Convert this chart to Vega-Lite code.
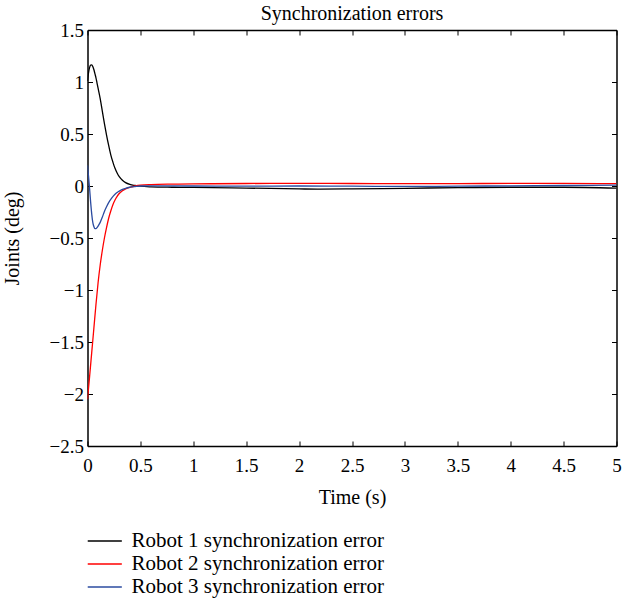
{
  "$schema": "https://vega.github.io/schema/vega-lite/v6.json",
  "width": 529,
  "height": 416,
  "autosize": {"type": "none"},
  "padding": {"left": 87.5, "top": 30, "right": 6.5, "bottom": 167},
  "config": {
    "font": "Liberation Serif",
    "view": {"stroke": null},
    "axis": {"grid": false, "domainColor": "black", "domainWidth": 1.5, "tickColor": "black", "tickWidth": 1, "labelColor": "black", "titleColor": "black", "labelFont": "Liberation Serif", "titleFont": "Liberation Serif", "titleFontWeight": "normal"},
    "legend": {"labelFont": "Liberation Serif"}
  },
  "title": {"text": "Synchronization errors", "font": "Liberation Serif", "fontSize": 20, "fontWeight": "normal", "color": "black", "baseline": "alphabetic", "offset": 3, "dy": 22},
  "data": {"values": [
    {"t":0,"v":1.01,"s":"Robot 1 synchronization error"},
    {"t":0.01,"v":1.09,"s":"Robot 1 synchronization error"},
    {"t":0.02,"v":1.14,"s":"Robot 1 synchronization error"},
    {"t":0.03,"v":1.163,"s":"Robot 1 synchronization error"},
    {"t":0.04,"v":1.165,"s":"Robot 1 synchronization error"},
    {"t":0.05,"v":1.15,"s":"Robot 1 synchronization error"},
    {"t":0.06,"v":1.12,"s":"Robot 1 synchronization error"},
    {"t":0.07,"v":1.08,"s":"Robot 1 synchronization error"},
    {"t":0.08,"v":1.04,"s":"Robot 1 synchronization error"},
    {"t":0.09,"v":0.99,"s":"Robot 1 synchronization error"},
    {"t":0.10,"v":0.94,"s":"Robot 1 synchronization error"},
    {"t":0.12,"v":0.84,"s":"Robot 1 synchronization error"},
    {"t":0.14,"v":0.72,"s":"Robot 1 synchronization error"},
    {"t":0.16,"v":0.60,"s":"Robot 1 synchronization error"},
    {"t":0.18,"v":0.49,"s":"Robot 1 synchronization error"},
    {"t":0.20,"v":0.39,"s":"Robot 1 synchronization error"},
    {"t":0.22,"v":0.30,"s":"Robot 1 synchronization error"},
    {"t":0.24,"v":0.23,"s":"Robot 1 synchronization error"},
    {"t":0.26,"v":0.17,"s":"Robot 1 synchronization error"},
    {"t":0.28,"v":0.125,"s":"Robot 1 synchronization error"},
    {"t":0.30,"v":0.09,"s":"Robot 1 synchronization error"},
    {"t":0.33,"v":0.055,"s":"Robot 1 synchronization error"},
    {"t":0.36,"v":0.032,"s":"Robot 1 synchronization error"},
    {"t":0.40,"v":0.015,"s":"Robot 1 synchronization error"},
    {"t":0.45,"v":0.005,"s":"Robot 1 synchronization error"},
    {"t":0.50,"v":-0.002,"s":"Robot 1 synchronization error"},
    {"t":0.6,"v":-0.008,"s":"Robot 1 synchronization error"},
    {"t":0.8,"v":-0.012,"s":"Robot 1 synchronization error"},
    {"t":1.0,"v":-0.014,"s":"Robot 1 synchronization error"},
    {"t":1.5,"v":-0.02,"s":"Robot 1 synchronization error"},
    {"t":2.0,"v":-0.028,"s":"Robot 1 synchronization error"},
    {"t":2.2,"v":-0.03,"s":"Robot 1 synchronization error"},
    {"t":2.5,"v":-0.028,"s":"Robot 1 synchronization error"},
    {"t":3.0,"v":-0.022,"s":"Robot 1 synchronization error"},
    {"t":3.5,"v":-0.016,"s":"Robot 1 synchronization error"},
    {"t":4.0,"v":-0.012,"s":"Robot 1 synchronization error"},
    {"t":4.5,"v":-0.012,"s":"Robot 1 synchronization error"},
    {"t":5.0,"v":-0.02,"s":"Robot 1 synchronization error"},
    {"t":0,"v":-2.05,"s":"Robot 2 synchronization error"},
    {"t":0.02,"v":-1.83,"s":"Robot 2 synchronization error"},
    {"t":0.04,"v":-1.60,"s":"Robot 2 synchronization error"},
    {"t":0.06,"v":-1.37,"s":"Robot 2 synchronization error"},
    {"t":0.08,"v":-1.14,"s":"Robot 2 synchronization error"},
    {"t":0.10,"v":-0.93,"s":"Robot 2 synchronization error"},
    {"t":0.12,"v":-0.76,"s":"Robot 2 synchronization error"},
    {"t":0.14,"v":-0.62,"s":"Robot 2 synchronization error"},
    {"t":0.16,"v":-0.50,"s":"Robot 2 synchronization error"},
    {"t":0.18,"v":-0.40,"s":"Robot 2 synchronization error"},
    {"t":0.20,"v":-0.31,"s":"Robot 2 synchronization error"},
    {"t":0.22,"v":-0.24,"s":"Robot 2 synchronization error"},
    {"t":0.24,"v":-0.18,"s":"Robot 2 synchronization error"},
    {"t":0.26,"v":-0.135,"s":"Robot 2 synchronization error"},
    {"t":0.28,"v":-0.10,"s":"Robot 2 synchronization error"},
    {"t":0.30,"v":-0.072,"s":"Robot 2 synchronization error"},
    {"t":0.33,"v":-0.045,"s":"Robot 2 synchronization error"},
    {"t":0.36,"v":-0.027,"s":"Robot 2 synchronization error"},
    {"t":0.40,"v":-0.012,"s":"Robot 2 synchronization error"},
    {"t":0.45,"v":0.0,"s":"Robot 2 synchronization error"},
    {"t":0.5,"v":0.008,"s":"Robot 2 synchronization error"},
    {"t":0.6,"v":0.014,"s":"Robot 2 synchronization error"},
    {"t":0.8,"v":0.018,"s":"Robot 2 synchronization error"},
    {"t":1.0,"v":0.02,"s":"Robot 2 synchronization error"},
    {"t":1.5,"v":0.024,"s":"Robot 2 synchronization error"},
    {"t":2.0,"v":0.025,"s":"Robot 2 synchronization error"},
    {"t":2.5,"v":0.024,"s":"Robot 2 synchronization error"},
    {"t":3.0,"v":0.022,"s":"Robot 2 synchronization error"},
    {"t":3.5,"v":0.023,"s":"Robot 2 synchronization error"},
    {"t":4.0,"v":0.025,"s":"Robot 2 synchronization error"},
    {"t":4.5,"v":0.025,"s":"Robot 2 synchronization error"},
    {"t":5.0,"v":0.022,"s":"Robot 2 synchronization error"},
    {"t":0,"v":0.20,"s":"Robot 3 synchronization error"},
    {"t":0.01,"v":0.09,"s":"Robot 3 synchronization error"},
    {"t":0.02,"v":-0.03,"s":"Robot 3 synchronization error"},
    {"t":0.03,"v":-0.16,"s":"Robot 3 synchronization error"},
    {"t":0.04,"v":-0.27,"s":"Robot 3 synchronization error"},
    {"t":0.05,"v":-0.35,"s":"Robot 3 synchronization error"},
    {"t":0.06,"v":-0.39,"s":"Robot 3 synchronization error"},
    {"t":0.07,"v":-0.41,"s":"Robot 3 synchronization error"},
    {"t":0.08,"v":-0.41,"s":"Robot 3 synchronization error"},
    {"t":0.09,"v":-0.40,"s":"Robot 3 synchronization error"},
    {"t":0.10,"v":-0.385,"s":"Robot 3 synchronization error"},
    {"t":0.12,"v":-0.35,"s":"Robot 3 synchronization error"},
    {"t":0.14,"v":-0.30,"s":"Robot 3 synchronization error"},
    {"t":0.16,"v":-0.245,"s":"Robot 3 synchronization error"},
    {"t":0.18,"v":-0.20,"s":"Robot 3 synchronization error"},
    {"t":0.20,"v":-0.16,"s":"Robot 3 synchronization error"},
    {"t":0.23,"v":-0.115,"s":"Robot 3 synchronization error"},
    {"t":0.26,"v":-0.08,"s":"Robot 3 synchronization error"},
    {"t":0.29,"v":-0.056,"s":"Robot 3 synchronization error"},
    {"t":0.32,"v":-0.038,"s":"Robot 3 synchronization error"},
    {"t":0.36,"v":-0.022,"s":"Robot 3 synchronization error"},
    {"t":0.40,"v":-0.012,"s":"Robot 3 synchronization error"},
    {"t":0.45,"v":-0.005,"s":"Robot 3 synchronization error"},
    {"t":0.5,"v":0.0,"s":"Robot 3 synchronization error"},
    {"t":0.6,"v":0.002,"s":"Robot 3 synchronization error"},
    {"t":1.0,"v":0.0,"s":"Robot 3 synchronization error"},
    {"t":1.5,"v":-0.002,"s":"Robot 3 synchronization error"},
    {"t":2.0,"v":0.0,"s":"Robot 3 synchronization error"},
    {"t":2.5,"v":-0.002,"s":"Robot 3 synchronization error"},
    {"t":3.0,"v":-0.004,"s":"Robot 3 synchronization error"},
    {"t":3.5,"v":-0.002,"s":"Robot 3 synchronization error"},
    {"t":4.0,"v":0.002,"s":"Robot 3 synchronization error"},
    {"t":4.5,"v":0.005,"s":"Robot 3 synchronization error"},
    {"t":5.0,"v":0.008,"s":"Robot 3 synchronization error"}
  ]},
  "layer": [
    {
      "mark": {"type": "line", "interpolate": "monotone", "strokeWidth": 1.3, "clip": true},
      "encoding": {
        "x": {"field": "t", "type": "quantitative", "scale": {"domain": [0, 5], "nice": false},
          "axis": {"orient": "bottom", "title": "Time (s)", "values": [0,0.5,1,1.5,2,2.5,3,3.5,4,4.5,5], "format": "~g", "labelFlush": false, "tickSize": -5, "labelPadding": 15, "labelFontSize": 19, "titleFontSize": 20, "titlePadding": 12}},
        "y": {"field": "v", "type": "quantitative", "scale": {"domain": [-2.5, 1.5], "nice": false, "zero": false},
          "axis": {"orient": "left", "title": "Joints (deg)", "values": [-2.5,-2,-1.5,-1,-0.5,0,0.5,1,1.5], "format": "~g", "tickSize": -5, "labelPadding": 9, "labelFontSize": 19, "titleFontSize": 20, "titlePadding": 27}},
        "color": {"field": "s", "type": "nominal",
          "scale": {"domain": ["Robot 1 synchronization error", "Robot 2 synchronization error", "Robot 3 synchronization error"], "range": ["#000000", "#ff0000", "#2b4ba0"]},
          "legend": {"orient": "bottom", "direction": "vertical", "title": null, "labelFontSize": 21, "labelLimit": 500, "labelColor": "black", "symbolType": "M-1.07,0H2.03", "symbolSize": 484, "symbolStrokeWidth": 1.5, "labelOffset": 20, "rowPadding": 1, "offset": 22}}
      }
    },
    {
      "mark": {"type": "line", "opacity": 0},
      "encoding": {
        "x": {"field": "t", "type": "quantitative",
          "axis": {"orient": "top", "title": null, "labels": false, "values": [0,0.5,1,1.5,2,2.5,3,3.5,4,4.5,5], "tickSize": -5}},
        "y": {"field": "v", "type": "quantitative",
          "axis": {"orient": "right", "title": null, "labels": false, "values": [-2.5,-2,-1.5,-1,-0.5,0,0.5,1,1.5], "tickSize": -5}},
        "detail": {"field": "s"}
      }
    }
  ],
  "resolve": {"axis": {"x": "independent", "y": "independent"}}
}
